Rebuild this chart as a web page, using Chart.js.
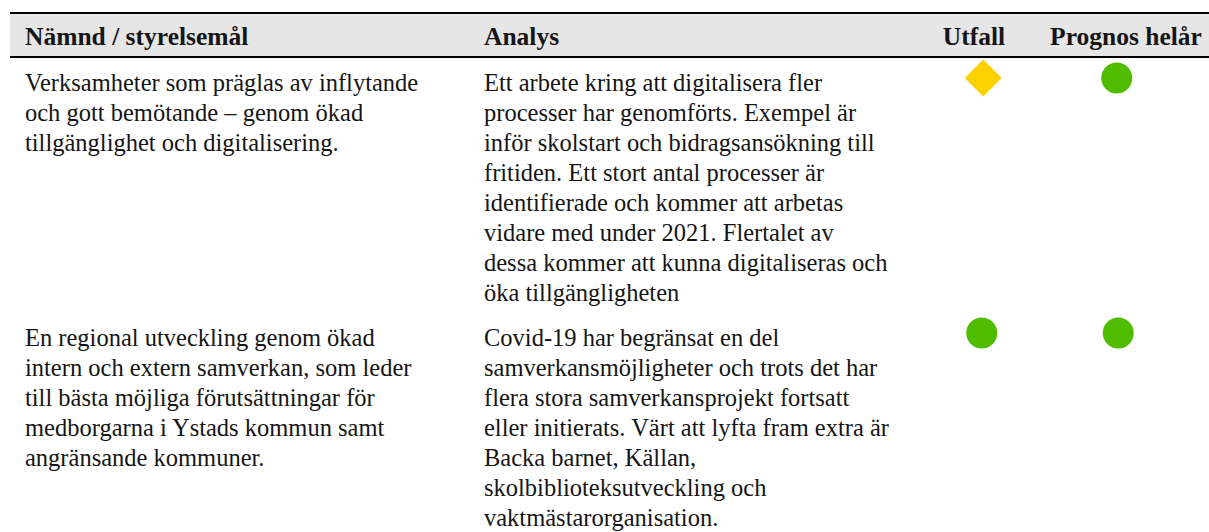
<!DOCTYPE html>
<html>
<head>
<meta charset="utf-8">
<script src="https://cdn.jsdelivr.net/npm/chart.js"></script>
<style>
  body { margin: 0; background: #fff; width: 1209px; height: 532px; overflow: hidden;
         font-family: "Liberation Serif", "DejaVu Serif", serif; color: #151515; }
  table { position: absolute; left: 10px; top: 12px; width: 1199px; border-collapse: collapse; table-layout: fixed; }
  th { background: #e6e6e6; font-size: 25.5px; font-weight: bold; text-align: left; height: 44px;
       padding: 3px 0 0 15px; box-sizing: border-box; border-top: 2px solid #000; border-bottom: 2px solid #000; white-space: nowrap; }
  th.c { text-align: center; padding-left: 0; }
  th.last { padding-right: 7px; }
  td { vertical-align: top; font-size: 24.5px; line-height: 30px; padding: 10px 0 5px 15px; white-space: nowrap; }
  td.status { padding: 0; }
  td.status canvas { display: block; }
</style>
</head>
<body>
<table id="tbl">
  <colgroup><col style="width:459px"><col style="width:429px"><col style="width:152px"><col style="width:159px"></colgroup>
  <thead><tr id="head"></tr></thead>
  <tbody id="body"></tbody>
</table>
<script>
const headers = ["Nämnd / styrelsemål", "Analys", "Utfall", "Prognos helår"];
const statusColumns = ["Utfall", "Prognos helår"];

const goals = [
  ["Verksamheter som präglas av inflytande", "och gott bemötande – genom ökad", "tillgänglighet och digitalisering."],
  ["En regional utveckling genom ökad", "intern och extern samverkan, som leder", "till bästa möjliga förutsättningar för", "medborgarna i Ystads kommun samt", "angränsande kommuner."]
];
const analyses = [
  ["Ett arbete kring att digitalisera fler", "processer har genomförts. Exempel är", "inför skolstart och bidragsansökning till", "fritiden. Ett stort antal processer är", "identifierade och kommer att arbetas", "vidare med under 2021. Flertalet av", "dessa kommer att kunna digitaliseras och", "öka tillgängligheten"],
  ["Covid-19 har begränsat en del", "samverkansmöjligheter och trots det har", "flera stora samverkansprojekt fortsatt", "eller initierats. Värt att lyfta fram extra är", "Backa barnet, Källan,", "skolbiblioteksutveckling och", "vaktmästarorganisation."]
];
const utfall = ["gul", "grön"];
const prognos = ["grön", "grön"];

const statusStyle = {
  "grön": { shape: "circle", color: "#50bc00", radius: 15.5 },
  "gul": { shape: "rectRot", color: "#fdd100", radius: 18.5 },
  "röd": { shape: "rect", color: "#e0201b", radius: 14 }
};

const head = document.getElementById("head");
headers.forEach((h, i) => {
  let th = document.createElement("th");
  th.textContent = h;
  if (i > 1) th.className = "c";
  if (i == 3) th.className = "c last";
  head.appendChild(th);
});

const body = document.getElementById("body");
goals.forEach((goal, r) => {
  let tr = document.createElement("tr");
  let td1 = document.createElement("td");
  td1.innerHTML = goal.join("<br>");
  let td2 = document.createElement("td");
  td2.innerHTML = analyses[r].join("<br>");
  let td3 = document.createElement("td");
  td3.colSpan = 2;
  td3.className = "status";
  let canvas = document.createElement("canvas");
  canvas.width = 304;
  canvas.height = 40;
  td3.appendChild(canvas);
  tr.append(td1, td2, td3);
  body.appendChild(tr);

  // one small chart per row: x = status column, marker shape/colour = status
  let states = [utfall[r], prognos[r]];
  new Chart(canvas, {
    type: "scatter",
    data: {
      labels: statusColumns,
      datasets: [{
        data: statusColumns.map(c => ({ x: c, y: 0 })),
        pointStyle: states.map(s => statusStyle[s].shape),
        pointRadius: states.map(s => statusStyle[s].radius),
        backgroundColor: states.map(s => statusStyle[s].color),
        borderWidth: 0,
        clip: false
      }]
    },
    options: {
      responsive: false,
      animation: false,
      events: [],
      layout: { padding: 0 },
      plugins: { legend: { display: false }, tooltip: { enabled: false } },
      scales: {
        x: { type: "category", labels: statusColumns, offset: true, display: false },
        y: { min: -1, max: 1, display: false }
      }
    }
  });
});
</script>
</body>
</html>
